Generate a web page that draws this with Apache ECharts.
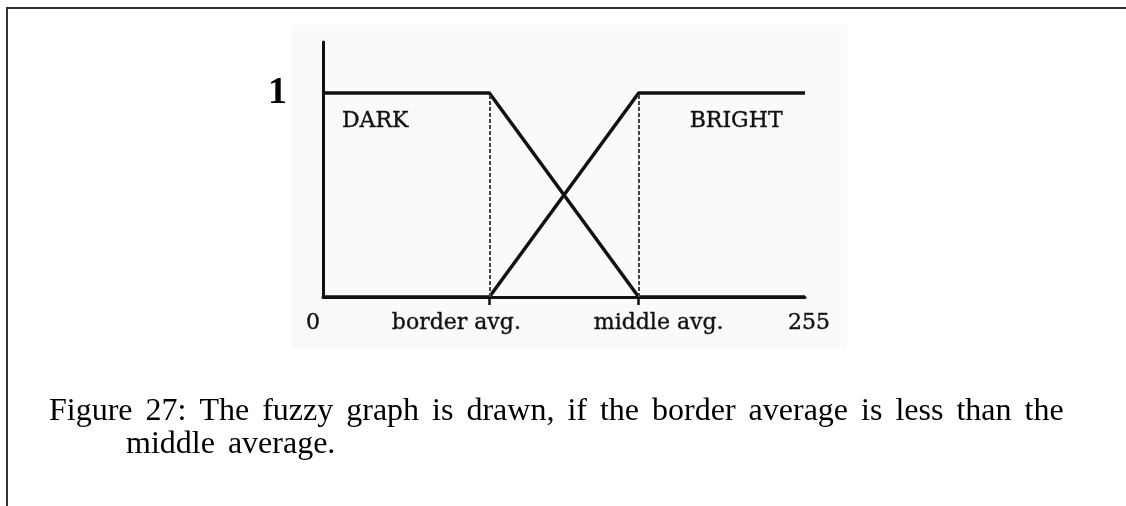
<!DOCTYPE html>
<html>
<head>
<meta charset="utf-8">
<script src="https://cdn.jsdelivr.net/npm/echarts@6/dist/echarts.min.js"></script>
<style>
  html, body { margin: 0; padding: 0; background: #fff; }
  .frame {
    position: absolute;
    left: 6px;
    top: 7px;
    width: 1120px;
    height: 499px;
    border-left: 2px solid #333;
    border-top: 2px solid #333;
    box-sizing: border-box;
  }
  #chart { position: absolute; left: 0; top: 0; width: 1126px; height: 506px; }
</style>
</head>
<body>
<div class="frame"></div>
<div id="chart"></div>
<script>
// x positions of the graph corners (grey level 0..255)
const borderAvg = 88
const middleAvg = 167
const xPoints = [0, borderAvg, middleAvg, 255]
const darkValues = [1, 1, 0, 0]
const brightValues = [0, 0, 1, 1]
const xTickValues = [0, borderAvg, middleAvg, 255]
const xTickNames = ['0', 'border avg.', 'middle avg.', '255']
const yTickValues = [1]
const guideValues = [borderAvg, middleAvg]
const captionLines = [
  'Figure 27: The fuzzy graph is drawn, if the border average is less than the',
  'middle average.'
]

const chart = echarts.init(document.getElementById('chart'))

const serif = 'DejaVu Serif'
const capFont = 'Liberation Serif'

const toPairs = (vals) => xPoints.map((x, i) => [x, vals[i]])

// scanned labels look a bit heavier than a plain serif
const scanText = {
  fontFamily: serif,
  fontSize: 22,
  color: '#111',
  textBorderColor: '#222',
  textBorderWidth: 0.4
}

// caption is justified in the original, so widen the gaps between words
const spaced = (s) => s.split(' ').join('{g| }')
const captionStyle = {
  fontFamily: capFont,
  fontSize: 32,
  fontWeight: 'normal',
  color: '#000',
  rich: { g: { width: 13, fontSize: 32, fontFamily: capFont } }
}

const option = {
  animation: false,
  backgroundColor: 'transparent',
  title: [
    { text: spaced(captionLines[0]), left: 49, top: 396, padding: 0, textStyle: captionStyle },
    { text: spaced(captionLines[1]), left: 126, top: 429, padding: 0, textStyle: captionStyle }
  ],
  graphic: [
    {
      type: 'rect',
      z: -10,
      shape: { x: 292, y: 25, width: 555, height: 323 },
      style: { fill: '#fafafa' }
    }
  ],
  grid: { left: 323, right: 321, top: 42, bottom: 209 },
  xAxis: {
    type: 'value',
    min: 0,
    max: 255,
    splitLine: { show: false },
    axisLine: { show: true, lineStyle: { color: '#111', width: 3 } },
    axisTick: {
      show: true,
      customValues: guideValues,
      length: 8,
      lineStyle: { color: '#111', width: 2.5 }
    },
    axisLabel: {
      show: true,
      customValues: xTickValues,
      showMinLabel: true,
      showMaxLabel: true,
      margin: 15,
      formatter: (v) => {
        const i = xTickValues.indexOf(v)
        return '{l' + i + '|' + xTickNames[i] + '}'
      },
      rich: {
        l0: Object.assign({}, scanText, { padding: [0, 20, 0, 0] }),
        l1: Object.assign({}, scanText, { padding: [0, 66, 0, 0] }),
        l2: Object.assign({}, scanText, { padding: [0, 0, 0, 40] }),
        l3: Object.assign({}, scanText, { padding: [0, 0, 0, 8] })
      }
    }
  },
  yAxis: {
    type: 'value',
    min: 0,
    max: 1.25,
    splitLine: { show: false },
    axisLine: { show: true, lineStyle: { color: '#111', width: 3 } },
    axisTick: { show: false },
    axisLabel: {
      show: true,
      customValues: yTickValues,
      margin: 36,
      fontFamily: capFont,
      fontWeight: 'bold',
      fontSize: 38,
      color: '#000',
      padding: [0, 0, 6, 0]
    }
  },
  series: [
    {
      name: 'DARK',
      type: 'line',
      data: toPairs(darkValues),
      symbol: 'none',
      lineStyle: { color: '#111', width: 3.5 },
      markPoint: {
        symbolSize: 0,
        data: [{ name: 'DARK', coord: [10, 0.863] }],
        label: Object.assign({ show: true, position: 'right', distance: 0, formatter: '{b}' }, scanText)
      },
      markLine: {
        symbol: 'none',
        silent: true,
        label: { show: false },
        lineStyle: { color: '#444', width: 2, type: [4, 2] },
        data: guideValues.map((x) => [{ coord: [x, 0] }, { coord: [x, 1] }])
      }
    },
    {
      name: 'BRIGHT',
      type: 'line',
      data: toPairs(brightValues),
      symbol: 'none',
      lineStyle: { color: '#111', width: 3.5 },
      markPoint: {
        symbolSize: 0,
        data: [{ name: 'BRIGHT', coord: [194, 0.863] }],
        label: Object.assign({ show: true, position: 'right', distance: 0, formatter: '{b}' }, scanText)
      }
    }
  ]
}

chart.setOption(option)
</script>
</body>
</html>
